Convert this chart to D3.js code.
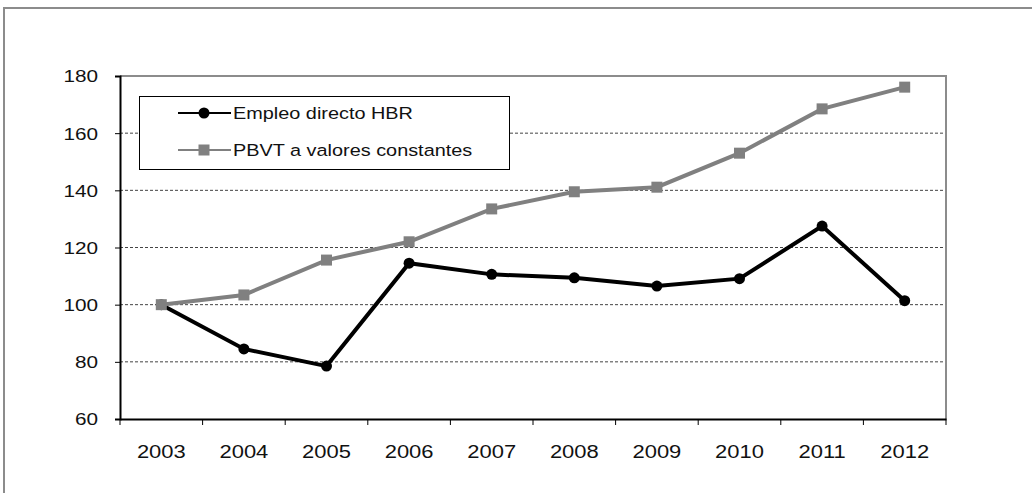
<!DOCTYPE html>
<html><head><meta charset="utf-8">
<script src="https://cdn.jsdelivr.net/npm/d3@7/dist/d3.min.js"></script>
<style>body{margin:0;background:#fff}svg{display:block}text{font-family:"Liberation Sans",Arial,sans-serif;fill:#111}</style>
</head><body>
<svg id="c" width="1032" height="493"></svg>
<script>
const years = ["2003","2004","2005","2006","2007","2008","2009","2010","2011","2012"];
const empleo = [100, 84.5, 78.5, 114.5, 110.6, 109.4, 106.5, 109.1, 127.5, 101.4];
const pbvt = [100, 103.4, 115.6, 122.0, 133.5, 139.5, 141.1, 153.0, 168.5, 176.1];
const yTicks = [60, 80, 100, 120, 140, 160, 180];
const seriesNames = ["Empleo directo HBR", "PBVT a valores constantes"];

const svg = d3.select("#c");
const L = 120, R = 946, T = 76, B = 419;
const SX = 1.22;

svg.append("path").attr("d", `M4,493 L4,8 L1032,8`).attr("fill","none").attr("stroke","#8c8c8c").attr("stroke-width",2);

const x = d3.scaleBand().domain(years).range([L, R]);
const y = d3.scaleLinear().domain([60, 180]).range([B, T]);

function stretch(sel) {
  sel.each(function(){
    const w = this.getComputedTextLength();
    d3.select(this).attr("textLength", w*SX).attr("lengthAdjust","spacingAndGlyphs");
  });
}

svg.append("g").selectAll("line").data(yTicks.filter(d => d>60 && d<180)).join("line")
  .attr("x1", L).attr("x2", R).attr("y1", d => y(d)).attr("y2", d => y(d))
  .attr("stroke","#444").attr("stroke-width",1).attr("stroke-dasharray","3,2");

svg.append("path").attr("d", `M${L},${T} L${R},${T} L${R},${B}`).attr("fill","none").attr("stroke","#8c8c8c").attr("stroke-width",2);

const ya = svg.append("g").attr("transform", `translate(${L},0)`)
  .call(d3.axisLeft(y).tickValues(yTicks).tickSize(5).tickPadding(6).tickFormat(d3.format("d")));
ya.select(".domain").attr("stroke","#000").attr("stroke-width",2);
ya.selectAll(".tick line").attr("stroke","#000");
ya.selectAll(".tick text").attr("font-size", 17).attr("x", -22).attr("dy","0.35em").call(stretch);
ya.selectAll(".tick text").each(function(){ const w=+d3.select(this).attr("textLength"); d3.select(this).attr("text-anchor","start").attr("x", -22 - w); });

const xa = svg.append("g").attr("transform", `translate(0,${B})`)
  .call(d3.axisBottom(x).tickSize(0).tickPadding(0));
xa.select(".domain").attr("stroke","#000").attr("stroke-width",2);
xa.selectAll(".tick text").attr("font-size", 18).attr("y", 39).attr("dy", 0).attr("text-anchor","start").call(stretch);
xa.selectAll(".tick text").each(function(){ const w=+d3.select(this).attr("textLength"); d3.select(this).attr("x", -w/2); });
const bounds = years.map(d => x(d)).concat([R]);
svg.append("g").selectAll("line").data(bounds).join("line")
  .attr("x1", d=>d).attr("x2", d=>d).attr("y1", B).attr("y2", B+6).attr("stroke","#000").attr("stroke-width",1);

const cx = d => x(d) + x.bandwidth()/2;
const line = d3.line().x((d,i) => cx(years[i])).y(d => y(d));

svg.append("path").datum(empleo).attr("d", line).attr("fill","none").attr("stroke","#000").attr("stroke-width",4);
svg.append("g").selectAll("circle").data(empleo).join("circle")
  .attr("cx", (d,i) => cx(years[i])).attr("cy", d => y(d)).attr("r", 5.5).attr("fill","#000");

svg.append("path").datum(pbvt).attr("d", line).attr("fill","none").attr("stroke","#808080").attr("stroke-width",4);
svg.append("g").selectAll("rect").data(pbvt).join("rect")
  .attr("x", (d,i) => cx(years[i]) - 5.5).attr("y", d => y(d) - 5.5).attr("width", 11).attr("height", 11).attr("fill","#808080");

const lg = svg.append("g");
lg.append("rect").attr("x", 139.5).attr("y", 96.5).attr("width", 370).attr("height", 73).attr("fill","#fff").attr("stroke","#000").attr("stroke-width",1);
const ly = [113, 150];
const lcol = ["#000", "#808080"];
lg.selectAll("line").data(seriesNames).join("line")
  .attr("x1", 178).attr("x2", 231).attr("y1", (d,i)=>ly[i]).attr("y2", (d,i)=>ly[i])
  .attr("stroke", (d,i)=>lcol[i]).attr("stroke-width", 2);
lg.append("circle").attr("cx", 204).attr("cy", ly[0]).attr("r", 5.5).attr("fill", "#000");
lg.append("rect").attr("x", 198.5).attr("y", ly[1]-5.5).attr("width", 11).attr("height", 11).attr("fill", "#808080");
lg.selectAll("text").data(seriesNames).join("text")
  .attr("x", 233).attr("y", (d,i)=>ly[i]).attr("dy","0.36em").attr("font-size", 16.3).text(d=>d).call(stretch);
</script>
</body></html>
